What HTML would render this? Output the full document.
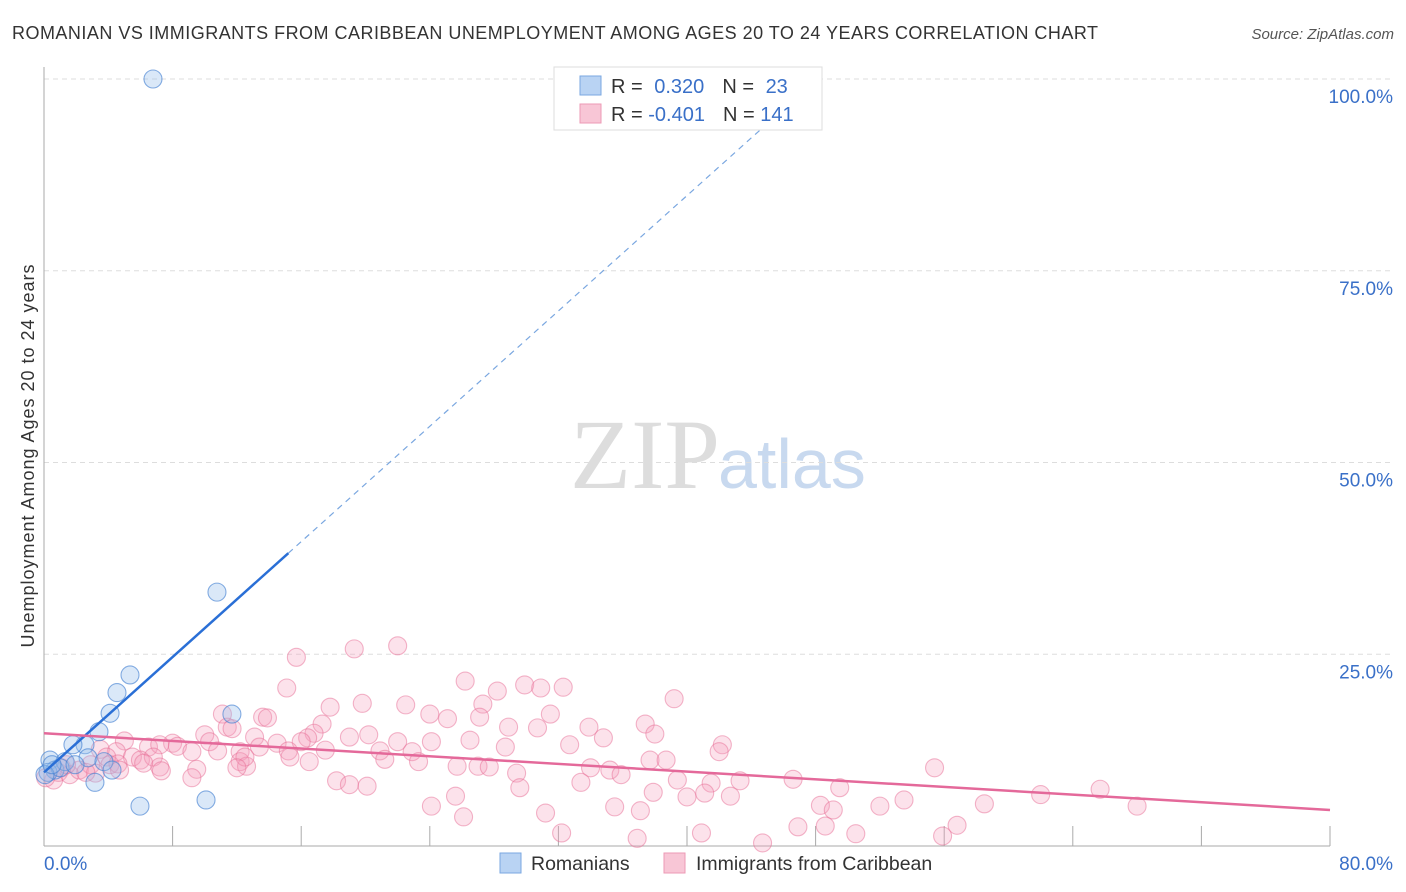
<!DOCTYPE html>
<html><head><meta charset="utf-8"><style>
body{margin:0;background:#fff;font-family:"Liberation Sans",sans-serif}
</style></head><body>
<svg id="chart" width="1406" height="892" xmlns="http://www.w3.org/2000/svg" style="display:block">
<text x="12" y="39" font-size="18" fill="#333" textLength="1086" lengthAdjust="spacing">ROMANIAN VS IMMIGRANTS FROM CARIBBEAN UNEMPLOYMENT AMONG AGES 20 TO 24 YEARS CORRELATION CHART</text>
<text x="1394" y="39" font-size="15" fill="#555" font-style="italic" text-anchor="end">Source: ZipAtlas.com</text>
<text x="0" y="0" transform="translate(34,456) rotate(-90)" font-size="18" fill="#333" text-anchor="middle" textLength="383" lengthAdjust="spacing">Unemployment Among Ages 20 to 24 years</text>
<text x="720" y="488" font-size="100" fill="#ddd" font-family="Liberation Serif" text-anchor="end">ZIP</text>
<text x="718" y="488" font-size="70" fill="#c8d9ef">atlas</text>
<g id="grid"></g><g id="pink"></g><g id="blue"></g><g id="trends"></g>
<g>
<rect x="554" y="67" width="268" height="63" fill="#fff" stroke="#ddd"/>
<rect x="580" y="76" width="21" height="19" fill="#b9d3f3" stroke="#7aa7e0"/>
<rect x="580" y="104" width="21" height="19" fill="#f8c6d6" stroke="#ec9ab5"/>
<text x="611" y="93" font-size="20" fill="#333">R = <tspan fill="#3a70c8" dx="6">0.320</tspan><tspan dx="18" fill="#333">N = </tspan><tspan fill="#3a70c8" dx="6">23</tspan></text>
<text x="611" y="121" font-size="20" fill="#333">R = <tspan fill="#3a70c8" dx="0">-0.401</tspan><tspan dx="18" fill="#333">N = </tspan><tspan fill="#3a70c8">141</tspan></text>
</g>
<g>
<rect x="500" y="853" width="21" height="20" fill="#b9d3f3" stroke="#7aa7e0"/>
<text x="531" y="870" font-size="19.5" fill="#333">Romanians</text>
<rect x="664" y="853" width="21" height="20" fill="#f8c6d6" stroke="#ec9ab5"/>
<text x="696" y="870" font-size="19.5" fill="#333">Immigrants from Caribbean</text>
</g>
</svg>
<script>
const xTicks=[0,80];
const yTicks=[25,50,75,100];
const blueX=[6.78,10.76,5.35,4.54,4.11,11.69,3.42,2.55,1.80,2.74,3.73,4.23,3.17,5.97,10.08,0.37,0.68,1.31,0.25,1.0,1.93,0.06,0.5];
const blueY=[100,33.1,22.3,20.0,17.3,17.2,14.9,13.2,13.2,11.5,11.0,9.9,8.3,5.2,6.0,11.2,9.9,11.0,9.6,10.2,10.6,9.3,10.6];
const pinkX=[22.0,19.3,15.7,26.2,29.9,30.9,32.3,28.2,15.1,39.2,19.8,17.8,22.5,31.5,24.0,13.6,13.9,11.1,27.3,25.1,27.1,17.3,28.9,30.7,37.4,33.9,11.4,11.7,16.8,16.4,13.1,10.0,19.0,38.0,34.8,5.0,8.0,8.3,10.3,14.5,16.0,20.2,22.0,24.1,26.5,28.7,32.7,42.2,6.5,7.2,9.2,10.8,12.2,13.4,15.2,17.5,20.9,22.9,15.3,4.5,5.5,3.5,3.9,6.0,6.8,12.2,12.6,12.5,16.5,21.2,23.3,25.7,27.0,27.7,34.0,37.7,38.7,42.0,4.1,4.6,7.2,12.0,9.5,7.3,6.2,4.7,29.4,35.2,35.9,55.4,39.4,41.5,43.3,46.6,49.5,9.2,18.2,19.0,20.1,29.6,33.4,37.9,40.0,41.1,42.7,25.6,24.1,35.5,37.1,31.2,48.3,49.1,52.0,53.5,58.5,62.0,65.7,68.0,26.1,32.2,36.9,40.9,44.7,46.9,48.6,50.5,55.9,56.8,0.6,0.9,1.1,1.6,2.2,2.9,3.2,0.1,1.4,2.6];
const pinkY=[26.1,25.7,24.6,21.5,21.0,20.6,20.7,20.2,20.6,19.2,18.6,18.1,18.4,17.2,17.2,16.8,16.7,17.2,18.5,16.6,16.8,15.9,15.5,15.4,15.9,15.5,15.5,15.3,14.7,14.1,14.2,14.5,14.2,14.6,14.1,13.7,13.4,13.0,13.6,13.4,13.6,14.5,13.6,13.6,13.8,12.9,13.2,13.2,12.9,13.2,12.3,12.4,12.3,12.9,12.4,12.5,12.4,12.3,11.6,12.3,11.6,12.6,11.6,11.2,11.6,11.0,10.4,11.6,11.0,11.3,11.0,10.4,10.4,10.3,10.2,11.2,11.2,12.3,10.6,10.7,10.3,10.2,10.0,9.8,10.8,9.9,9.5,9.9,9.3,10.2,8.6,8.2,8.5,8.7,7.6,8.9,8.5,8.0,7.8,7.6,8.3,7.0,6.4,6.9,6.5,6.5,5.2,5.1,4.6,4.3,5.3,4.7,5.2,6.0,5.5,6.7,7.4,5.2,3.8,1.7,1.0,1.7,0.4,2.5,2.6,1.6,1.3,2.7,8.6,9.6,10.2,9.3,9.9,10.6,9.5,8.9,10.6,9.6];
const blueTrend=[9.6,1.88];   // intercept, slope
const pinkTrend=[14.7,4.7];   // value at x=0 and x=80
const X0=44,X1=1330,Y0=846,Y100=79;
const sx=v=>X0+(v/80)*(X1-X0);
const sy=v=>Y0-(v/100)*(Y0-Y100);
const NS="http://www.w3.org/2000/svg";
function mk(tag,attrs,parent){const e=document.createElementNS(NS,tag);for(const k in attrs)e.setAttribute(k,attrs[k]);parent.appendChild(e);return e;}
const grid=document.getElementById('grid');
yTicks.forEach(t=>{
  const l=mk('line',{x1:X0,x2:1393,y1:sy(t),y2:sy(t),stroke:'#ddd','stroke-dasharray':'5,4'},grid);
  
  
  const tx=mk('text',{x:1393,y:sy(t)+24,'font-size':19,fill:'#3a70c8','text-anchor':'end'},grid);
  tx.textContent=t.toFixed(1)+'%';
  
  
});
const ax=mk('line',{x1:X0,x2:X0,y1:67,y2:846,stroke:'#aaa'},grid);


const bx=mk('line',{x1:X0,x2:X1,y1:846,y2:846,stroke:'#aaa'},grid);


for(let i=1;i<=10;i++){const v=i*8;
  const tk=mk('line',{x1:sx(v),x2:sx(v),y1:826,y2:846,stroke:'#aaa'},grid);
  
  
}
xTicks.forEach((t,i)=>{
  const tx=mk('text',{x:i==0?X0:1393,y:870,'font-size':19,fill:'#3a70c8','text-anchor':i==0?'start':'end'},grid);
  tx.textContent=t.toFixed(1)+'%';
  
  
});
const pg=document.getElementById('pink');
pinkX.forEach((x,i)=>{
  const c=mk('circle',{cx:sx(x),cy:sy(pinkY[i]),r:9,fill:'rgba(244,160,190,0.3)',stroke:'rgba(232,110,150,0.5)','stroke-width':1.1},pg);
  
  
});
const bg=document.getElementById('blue');
blueX.forEach((x,i)=>{
  const c=mk('circle',{cx:sx(x),cy:sy(blueY[i]),r:9,fill:'rgba(150,190,235,0.35)',stroke:'rgba(70,130,210,0.65)','stroke-width':1.1},bg);
  
  
});
const tg=document.getElementById('trends');
const bEnd=15.2, bTop=(97-blueTrend[0])/blueTrend[1];
const b1=mk('line',{x1:sx(0),y1:sy(blueTrend[0]),x2:sx(bEnd),y2:sy(blueTrend[0]+blueTrend[1]*bEnd),stroke:'#2a6fd6','stroke-width':2.5},tg);


const b2=mk('line',{x1:sx(bEnd),y1:sy(blueTrend[0]+blueTrend[1]*bEnd),x2:sx(bTop),y2:sy(97),stroke:'#7aa7e0','stroke-width':1.2,'stroke-dasharray':'6,5'},tg);


const p1=mk('line',{x1:sx(0),y1:sy(pinkTrend[0]),x2:sx(80),y2:sy(pinkTrend[1]),stroke:'#e4699a','stroke-width':2.5},tg);


</script>
</body></html>
